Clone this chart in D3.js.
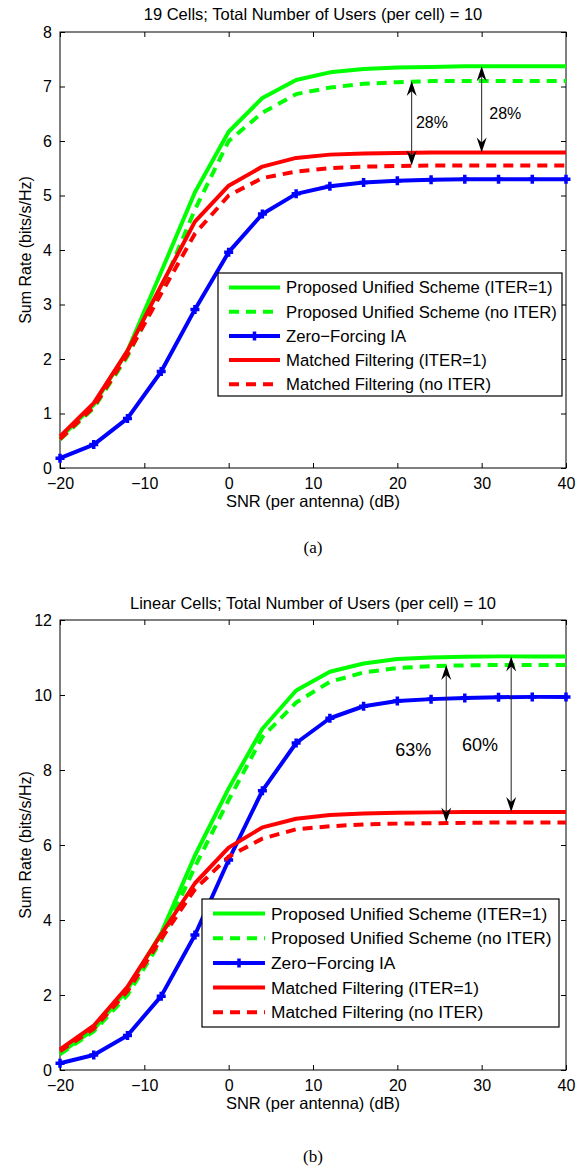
<!DOCTYPE html>
<html>
<head>
<meta charset="utf-8">
<script src="https://cdn.jsdelivr.net/npm/d3@7/dist/d3.min.js"></script>
<style>
  body { margin: 0; background: #fff; }
  text { font-family: "Liberation Sans", Arial, Helvetica, sans-serif; fill: #000; }
</style>
</head>
<body>
<div id="wrapper"></div>
<script>
// SNR points shared by both panels (dB)
const snr = [-20, -16, -12, -8, -4, 0, 4, 8, 12, 16, 20, 24, 28, 32, 36, 40]

const seriesNames = [
  "Proposed Unified Scheme (ITER=1)",
  "Proposed Unified Scheme (no ITER)",
  "Zero\u2212Forcing IA",
  "Matched Filtering (ITER=1)",
  "Matched Filtering (no ITER)",
]

// panel (a): 19 cells
const cellsProposedIter = [0.55, 1.16, 2.15, 3.6, 5.06, 6.17, 6.79, 7.12, 7.26, 7.32, 7.35, 7.36, 7.37, 7.37, 7.37, 7.37]
const cellsProposedNoIter = [0.52, 1.1, 2.05, 3.28, 4.74, 6.0, 6.52, 6.86, 6.98, 7.05, 7.08, 7.1, 7.1, 7.1, 7.1, 7.1]
const cellsZeroForcing = [0.18, 0.43, 0.91, 1.77, 2.91, 3.96, 4.66, 5.03, 5.17, 5.24, 5.27, 5.29, 5.3, 5.3, 5.3, 5.3]
const cellsMatchedIter = [0.58, 1.19, 2.15, 3.35, 4.52, 5.18, 5.53, 5.69, 5.75, 5.77, 5.78, 5.79, 5.79, 5.79, 5.79, 5.79]
const cellsMatchedNoIter = [0.53, 1.12, 2.08, 3.2, 4.3, 5.0, 5.32, 5.44, 5.5, 5.53, 5.54, 5.55, 5.55, 5.55, 5.55, 5.55]

// panel (b): linear cells
const linearProposedIter = [0.45, 1.08, 2.15, 3.65, 5.72, 7.51, 9.1, 10.12, 10.62, 10.84, 10.96, 11.0, 11.02, 11.03, 11.03, 11.03]
const linearProposedNoIter = [0.42, 1.03, 2.0, 3.45, 5.42, 7.2, 8.88, 9.8, 10.35, 10.6, 10.72, 10.77, 10.79, 10.8, 10.8, 10.8]
const linearZeroForcing = [0.18, 0.4, 0.92, 1.97, 3.6, 5.6, 7.45, 8.72, 9.38, 9.7, 9.84, 9.89, 9.92, 9.94, 9.95, 9.95]
const linearMatchedIter = [0.55, 1.18, 2.22, 3.62, 4.98, 5.93, 6.47, 6.7, 6.8, 6.84, 6.86, 6.87, 6.88, 6.88, 6.88, 6.88]
const linearMatchedNoIter = [0.5, 1.1, 2.1, 3.5, 4.82, 5.69, 6.17, 6.42, 6.5, 6.55, 6.57, 6.58, 6.59, 6.6, 6.6, 6.6]

// tick values
const xTicks = [-20, -10, 0, 10, 20, 30, 40]
const cellsYTicks = [0, 1, 2, 3, 4, 5, 6, 7, 8]
const linearYTicks = [0, 2, 4, 6, 8, 10, 12]

// gain annotations: x position, top value, bottom value, label and where it sits
const cellsArrows = [
  { x: 21.7, from: 7.1, to: 5.55, label: "28%", lx: 24.1, ly: 6.35 },
  { x: 30, from: 7.37, to: 5.79, label: "28%", lx: 32.8, ly: 6.51 },
]
const linearArrows = [
  { x: 25.8, from: 10.8, to: 6.6, label: "63%", lx: 21.9, ly: 8.53 },
  { x: 33.5, from: 11.03, to: 6.88, label: "60%", lx: 29.8, ly: 8.67 },
]

const styles = [
  { color: "#00ff00", dash: null, marker: false },
  { color: "#00ff00", dash: "10,7", marker: false },
  { color: "#0000ff", dash: null, marker: true },
  { color: "#ff0000", dash: null, marker: false },
  { color: "#ff0000", dash: "10,7", marker: false },
]

const svg = d3.select("#wrapper")
  .append("svg")
    .attr("width", 576)
    .attr("height", 1170)

function drawPanel(cfg) {
  const dims = cfg.dims

  const xScale = d3.scaleLinear()
    .domain([-20, 40])
    .range([dims.left, dims.right])

  const yScale = d3.scaleLinear()
    .domain([0, cfg.yMax])
    .range([dims.bottom, dims.top])

  const g = svg.append("g")

  // title
  g.append("text")
    .attr("x", (dims.left + dims.right) / 2)
    .attr("y", dims.titleY)
    .attr("text-anchor", "middle")
    .style("font-size", "16.5px")
    .text(cfg.title)

  // axes with inward ticks on all four sides (matlab style)
  const bottomAxis = g.append("g")
    .attr("transform", `translate(0,${dims.bottom})`)
    .call(d3.axisBottom(xScale).tickValues(xTicks).tickSizeInner(-5).tickSizeOuter(0).tickPadding(10)
      .tickFormat(d => d < 0 ? "\u2212" + Math.abs(d) : d))
  g.append("g")
    .attr("transform", `translate(0,${dims.top})`)
    .call(d3.axisTop(xScale).tickValues(xTicks).tickSizeInner(-5).tickSizeOuter(0).tickFormat(""))
  const leftAxis = g.append("g")
    .attr("transform", `translate(${dims.left},0)`)
    .call(d3.axisLeft(yScale).tickValues(cfg.yTicks).tickSizeInner(-5).tickSizeOuter(0).tickPadding(8))
  g.append("g")
    .attr("transform", `translate(${dims.right},0)`)
    .call(d3.axisRight(yScale).tickValues(cfg.yTicks).tickSizeInner(-5).tickSizeOuter(0).tickFormat(""))

  g.selectAll(".domain").remove()
  g.selectAll(".tick line").attr("stroke", "#000")
  bottomAxis.selectAll("text").style("font-size", "16px").style("font-family", "Liberation Sans, Arial, sans-serif")
  leftAxis.selectAll("text").style("font-size", "16px").style("font-family", "Liberation Sans, Arial, sans-serif")

  // box
  g.append("rect")
    .attr("x", dims.left)
    .attr("y", dims.top)
    .attr("width", dims.right - dims.left)
    .attr("height", dims.bottom - dims.top)
    .attr("fill", "none")
    .attr("stroke", "#000")
    .attr("stroke-width", 1)

  // axis labels
  g.append("text")
    .attr("x", (dims.left + dims.right) / 2)
    .attr("y", dims.bottom + 39)
    .attr("text-anchor", "middle")
    .style("font-size", "16.5px")
    .text("SNR (per antenna) (dB)")

  g.append("text")
    .attr("transform", `translate(31,${(dims.top + dims.bottom) / 2}) rotate(-90)`)
    .attr("text-anchor", "middle")
    .style("font-size", "16px")
    .text("Sum Rate (bits/s/Hz)")

  // curves
  const line = d3.line()
    .x((d, i) => xScale(snr[i]))
    .y(d => yScale(d))

  cfg.series.forEach((values, k) => {
    const s = styles[k]
    g.append("path")
      .datum(values)
      .attr("d", line)
      .attr("fill", "none")
      .attr("stroke", s.color)
      .attr("stroke-width", 4)
      .attr("stroke-linejoin", "round")
      .attr("stroke-dasharray", s.dash)

    if (s.marker) {
      g.selectAll(null)
        .data(values)
        .join("path")
          .attr("transform", (d, i) => `translate(${xScale(snr[i])},${yScale(d)})`)
          .attr("d", "M-4.5,0H4.5M0,-4.5V4.5")
          .attr("stroke", s.color)
          .attr("stroke-width", 3.5)
    }
  })

  // double arrows with gain labels
  const head = "M0,0L-5,15L0,10L5,15Z"
  cfg.arrows.forEach(a => {
    const ax = xScale(a.x)
    const y1 = yScale(a.from)
    const y2 = yScale(a.to)
    g.append("line")
      .attr("x1", ax).attr("x2", ax)
      .attr("y1", y1 + 8).attr("y2", y2 - 8)
      .attr("stroke", "#222")
      .attr("stroke-width", 1)
    g.append("path")
      .attr("d", head)
      .attr("transform", `translate(${ax},${y1})`)
      .attr("fill", "#000")
    g.append("path")
      .attr("d", head)
      .attr("transform", `translate(${ax},${y2}) rotate(180)`)
      .attr("fill", "#000")
    g.append("text")
      .attr("x", xScale(a.lx))
      .attr("y", yScale(a.ly))
      .attr("dy", "0.35em")
      .attr("text-anchor", "middle")
      .style("font-size", cfg.arrowFont)
      .text(a.label)
  })

  // legend
  const lg = cfg.legend
  g.append("rect")
    .attr("x", lg.x)
    .attr("y", lg.y)
    .attr("width", lg.w)
    .attr("height", lg.h)
    .attr("fill", "#fff")
    .attr("stroke", "#000")
    .attr("stroke-width", 1.2)

  seriesNames.forEach((name, k) => {
    const s = styles[k]
    const rowY = lg.y + lg.first + k * lg.step
    g.append("line")
      .attr("x1", lg.x + lg.lineStart)
      .attr("x2", lg.x + lg.lineEnd)
      .attr("y1", rowY).attr("y2", rowY)
      .attr("stroke", s.color)
      .attr("stroke-width", 4)
      .attr("stroke-dasharray", s.dash)
    if (s.marker) {
      g.append("path")
        .attr("transform", `translate(${lg.x + (lg.lineStart + lg.lineEnd) / 2},${rowY})`)
        .attr("d", "M-4.5,0H4.5M0,-4.5V4.5")
        .attr("stroke", s.color)
        .attr("stroke-width", 3.5)
    }
    g.append("text")
      .attr("x", lg.x + lg.textStart)
      .attr("y", rowY)
      .attr("dy", "0.35em")
      .style("font-size", lg.font)
      .text(name)
  })

  // caption
  g.append("text")
    .attr("x", (dims.left + dims.right) / 2)
    .attr("y", dims.captionY)
    .attr("text-anchor", "middle")
    .style("font-family", "Liberation Serif, Times New Roman, serif")
    .style("font-size", "17px")
    .text(cfg.caption)
}

drawPanel({
  title: "19 Cells; Total Number of Users (per cell) = 10",
  caption: "(a)",
  yMax: 8,
  yTicks: cellsYTicks,
  series: [cellsProposedIter, cellsProposedNoIter, cellsZeroForcing, cellsMatchedIter, cellsMatchedNoIter],
  arrows: cellsArrows,
  arrowFont: "16px",
  dims: { left: 60, right: 566, top: 32, bottom: 468, titleY: 20, captionY: 553 },
  legend: { x: 218, y: 273, w: 344, h: 123, first: 14.5, step: 24.2, lineStart: 11, lineEnd: 62, textStart: 68, font: "16.7px" },
})

drawPanel({
  title: "Linear Cells; Total Number of Users (per cell) = 10",
  caption: "(b)",
  yMax: 12,
  yTicks: linearYTicks,
  series: [linearProposedIter, linearProposedNoIter, linearZeroForcing, linearMatchedIter, linearMatchedNoIter],
  arrows: linearArrows,
  arrowFont: "18px",
  dims: { left: 60, right: 566, top: 620, bottom: 1070, titleY: 609, captionY: 1162 },
  legend: { x: 202, y: 899, w: 357, h: 128, first: 14.5, step: 24.7, lineStart: 11, lineEnd: 63, textStart: 69, font: "17.3px" },
})
</script>
</body>
</html>
